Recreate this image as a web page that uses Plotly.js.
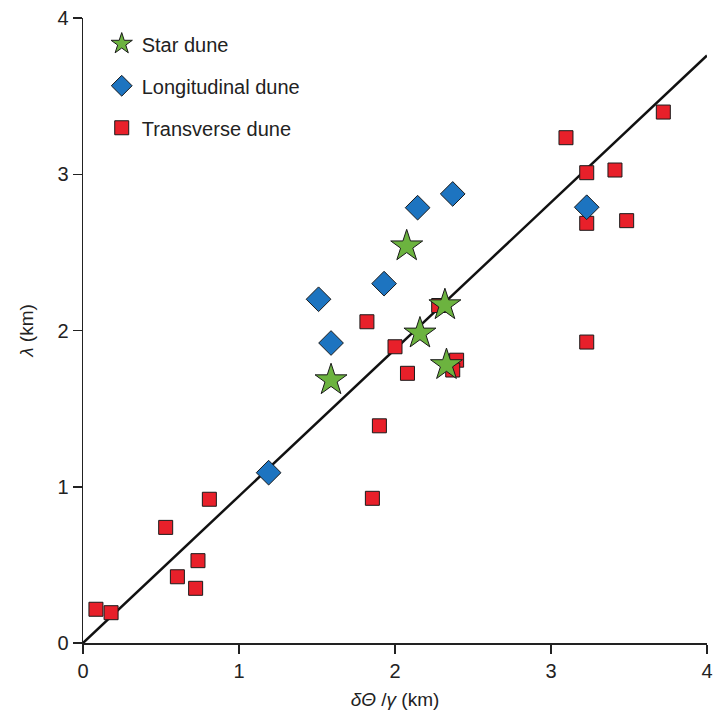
<!DOCTYPE html>
<html>
<head>
<meta charset="utf-8">
<script src="https://cdn.plot.ly/plotly-3.0.1.min.js"></script>
<style>html,body{margin:0;padding:0;background:#fff;}#chart{width:716px;height:713px;}</style>
</head>
<body>
<div id="chart"></div>
<script>
// Star dunes
var starX = [2.075, 2.32, 2.16, 2.33, 1.59];
var starY = [2.54, 2.163, 1.982, 1.78, 1.683];
// Longitudinal dunes
var longX = [2.37, 2.145, 1.93, 1.51, 1.59, 1.19, 3.229];
var longY = [2.874, 2.786, 2.30, 2.20, 1.92, 1.09, 2.789];
// Transverse dunes
var transX = [0.083, 0.18, 0.53, 0.81, 0.737, 0.605, 0.722, 1.82, 2.0, 2.08, 2.28, 2.395, 2.37, 1.90, 1.855, 3.096, 3.72, 3.229, 3.41, 3.229, 3.485, 3.229];
var transY = [0.216, 0.194, 0.74, 0.92, 0.527, 0.424, 0.35, 2.056, 1.896, 1.726, 2.16, 1.81, 1.747, 1.39, 0.926, 3.234, 3.398, 3.01, 3.027, 2.686, 2.703, 1.926];
// Fit line
var lineX = [0, 4];
var lineY = [0, 3.76];
// Ticks
var tickVals = [0, 1, 2, 3, 4];
var tickText = ['0', '1', '2', '3', '4'];

var outline = {color: '#1a1a1a', width: 1};
var traces = [
  {x: lineX, y: lineY, mode: 'lines', line: {color: '#111', width: 2.5}, showlegend: false, hoverinfo: 'skip'},
  {x: transX, y: transY, mode: 'markers', name: 'Transverse dune', legendgroup: 'c', legendrank: 3,
   marker: {symbol: 'square', size: 14, color: '#e8202a', line: outline}},
  {x: longX, y: longY, mode: 'markers', name: 'Longitudinal dune', legendgroup: 'b', legendrank: 2,
   marker: {symbol: 'diamond', size: 19, color: '#1d74c0', line: outline}},
  {x: starX, y: starY, mode: 'markers', name: 'Star dune', legendgroup: 'a', legendrank: 1,
   marker: {symbol: 'star', size: 24, color: '#6cb33f', line: outline}}
];
traces.forEach(function(t){ t.cliponaxis = false; t.type = 'scatter'; });

var axisCommon = {
  range: [0, 4], tickvals: tickVals, ticktext: tickText,
  showgrid: false, zeroline: false, showline: true, linecolor: '#222', linewidth: 1.5,
  ticks: 'outside', ticklen: 9, tickwidth: 1.5, tickcolor: '#222',
  tickfont: {size: 20, color: '#222'}, fixedrange: true
};

var layout = {
  width: 716, height: 713,
  margin: {l: 83, r: 9, t: 18, b: 70},
  paper_bgcolor: '#fff', plot_bgcolor: '#fff',
  font: {family: '"Liberation Sans", Arial, sans-serif', color: '#222', size: 18},
  showlegend: true,
  legend: {x: 0.03, y: 0.99, xanchor: 'left', yanchor: 'top', bgcolor: 'rgba(0,0,0,0)',
           font: {size: 20, color: '#222'}, tracegroupgap: 13, itemsizing: 'trace', traceorder: 'grouped'},
  xaxis: Object.assign({}, axisCommon, {title: {text: '<i>δΘ</i> /<i>γ</i> (km)', font: {size: 19, color: '#222'}, standoff: 12}}),
  yaxis: Object.assign({}, axisCommon, {title: {text: '<i>λ</i> (km)', font: {size: 19, color: '#222'}, standoff: 18}})
};

Plotly.newPlot('chart', traces, layout, {displayModeBar: false, staticPlot: true});
</script>
</body>
</html>
